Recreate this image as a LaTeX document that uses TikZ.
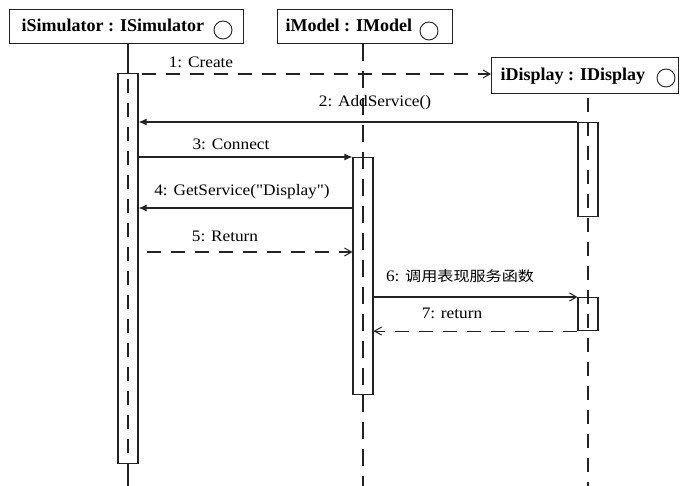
\documentclass[tikz,border=0pt]{standalone}
\usepackage{fontspec}
\usepackage{graphicx}
\setmainfont{Liberation Serif}
\newfontfamily\lbfont{Liberation Serif}
\newfontfamily\cjk{Noto Sans CJK SC}
\usetikzlibrary{arrows.meta}
\definecolor{ink}{RGB}{35,35,35}
\newcommand{\mtxt}[1]{\scalebox{1.08}[1]{#1}}
\begin{document}
\begin{tikzpicture}[x=1pt,y=-1pt, line width=1.1pt, draw=ink,
  objbox/.style={draw=ink, rectangle, inner sep=0pt, anchor=north west, minimum height=34pt},
  ttl/.style={font=\fontsize{18}{18}\selectfont\bfseries, inner sep=0pt, anchor=base west},
  objcirc/.style={draw=ink, circle, line width=0.9pt, minimum size=18pt, inner sep=0pt},
  actbar/.style={draw=ink, rectangle, inner sep=0pt, minimum width=20pt, anchor=north},
  lifeline/.style={draw=ink, dash pattern=on 14pt off 10pt},
  callmsg/.style={draw=ink, -{Latex[length=8pt,width=7pt]}},
  sendmsg/.style={draw=ink, -{Straight Barb[length=7pt,width=8pt,line width=1pt]}},
  retmsg/.style={draw=ink, dash pattern=on 14pt off 10pt, -{Straight Barb[length=7pt,width=8pt,line width=1pt]}},
  lbl/.style={font=\lbfont\fontsize{16}{16}\selectfont, inner sep=0pt, text=black}]
\useasboundingbox (0,0) rectangle (681,486);

% object boxes
\node[objbox, minimum width=234pt] (sim) at (9,9) {};
\node[ttl] (simt) at (21,32) {iSimulator : ISimulator};
\node[objcirc] (simc) at (223,30) {};

\node[objbox, minimum width=175pt] (mod) at (277,9) {};
\node[ttl] (modt) at (285,32) {iModel : IModel};
\node[objcirc] (modc) at (429,31) {};

\node[objbox, minimum width=187pt, minimum height=36pt] (disp) at (491,57) {};
\node[ttl] (dispt) at (500,81) {iDisplay : IDisplay};
\node[objcirc] (dispc) at (666,78) {};

% activation bars
\node[actbar, minimum height=390pt] (simbar) at (128,73) {};
\node[actbar, minimum height=237pt] (modbar) at (363,157) {};
\node[actbar, minimum height=94pt] (dispbarA) at (588,122) {};
\node[actbar, minimum height=33pt] (dispbarB) at (588,297) {};

% lifelines
\coordinate (bottomS) at (128,486);
\coordinate (bottomM) at (363,486);
\coordinate (bottomD) at (588,486);
\draw (sim.south -| simbar.north) -- (simbar.north);
\draw[lifeline, dash phase=-6pt] (simbar.north) -- (simbar.south);
\draw (simbar.south) -- (bottomS);
\draw[lifeline, dash pattern=on 17pt off 10pt] (mod.south -| modbar.north) -- (bottomM);
\draw[lifeline, dash phase=-4pt] (disp.south -| dispbarA.north) -- (bottomD);

% helper heights
\coordinate (y1) at (0,74);
\coordinate (y4) at (0,208);
\coordinate (y5) at (0,252);

% messages
\draw[retmsg, dash phase=-3pt] (simbar.east |- y1) -- (disp.west |- y1);
\node[lbl] (l1) at (201,62) {\mtxt{1: Create}};

\draw[callmsg] (dispbarA.north west) -- (simbar.east |- dispbarA.north west);
\node[lbl] (l2) at (375,103) {\mtxt{2: AddService()}};

\draw[callmsg] (simbar.east |- modbar.north west) -- (modbar.north west);
\node[lbl] (l3) at (231,144) {\mtxt{3: Connect}};

\draw[callmsg] (modbar.west |- y4) -- (simbar.east |- y4);
\node[lbl] (l4) at (242,192) {\mtxt{4: GetService("Display")}};

\draw[retmsg, dash phase=-8pt] (simbar.east |- y5) -- (modbar.west |- y5);
\node[lbl] (l5) at (225,236) {\mtxt{5: Return}};

\draw[sendmsg] (modbar.east |- dispbarB.north west) -- (dispbarB.north west);
\node[lbl] (l6) at (460,276) {\mtxt{6: }\scalebox{1.15}[1]{\cjk\fontsize{14}{14}\selectfont 调用表现服务函数}};

\draw[retmsg] (dispbarB.south west) -- (modbar.east |- dispbarB.south west);
\node[lbl] (l7) at (452,313) {\mtxt{7: return}};
\end{tikzpicture}
\end{document}
